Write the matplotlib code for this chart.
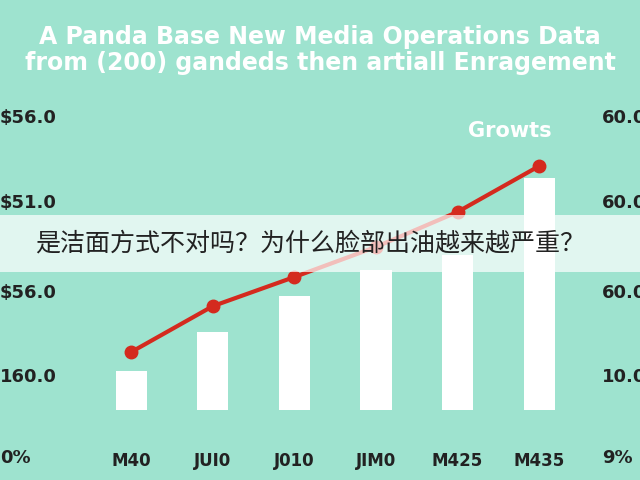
import matplotlib
matplotlib.use('agg')
import matplotlib.pyplot as plt
from matplotlib.patches import Rectangle

months = ['M40', 'JUI0', 'J010', 'JIM0', 'M425', 'M435']
bars = [12.6, 25.2, 36.8, 45.2, 50.0, 74.8]
growth = [18.7, 33.5, 42.9, 52.6, 63.9, 78.7]
left_labels = ['$56.0', '$51.0', '$56.0', '160.0', '0%']
right_labels = ['60.0', '60.0', '60.0', '10.0', '9%']
label_y = [118, 203, 293, 377, 458]  # pixel rows

bg = '#9ee3cf'
fig = plt.figure(figsize=(6.4, 4.8), dpi=100, facecolor=bg)
ax = fig.add_axes([70/640, 70/480, 510/640, 310/480], facecolor=bg)
x = range(len(months))
ax.bar(x, bars, width=0.38, color='white', zorder=2)
ax.plot(x, growth, color='#d42a1e', lw=3, marker='o', ms=9, zorder=3)
ax.set_ylim(0, 100)
ax.set_xlim(-0.75, 5.5)
ax.set_xticks(list(x))
ax.set_xticklabels(months, fontsize=12, fontweight='bold', color='#222222')
ax.tick_params(axis='x', length=0, pad=30)
ax.set_yticks([])
for s in ax.spines.values():
    s.set_visible(False)

for lab, y in zip(left_labels, label_y):
    fig.text(0.0, 1 - y/480, lab, fontsize=13, fontweight='bold', color='#222222', va='center', ha='left')
for lab, y in zip(right_labels, label_y):
    fig.text(602/640, 1 - y/480, lab, fontsize=13, fontweight='bold', color='#222222', va='center', ha='left')

fig.text(0.5, 1 - 50/480, 'A Panda Base New Media Operations Data\nfrom (200) gandeds then artiall Enragement',
         ha='center', va='center', fontsize=17, fontweight='bold', color='white', linespacing=1.1)
fig.text(510/640, 1 - 131/480, 'Growts', ha='center', va='center', fontsize=15, fontweight='bold', color='white')

fig.patches.append(Rectangle((0, 1 - 272/480), 1, 57/480, transform=fig.transFigure,
                             facecolor='white', alpha=0.7, zorder=5))
fig.text(35/640, 1 - 243/480, '是洁面方式不对吗？为什么脸部出油越来越严重？', fontsize=18, color='#222222',
         va='center', ha='left', family=['Noto Sans CJK SC', 'DejaVu Sans'], zorder=6)

fig.savefig('out.png', facecolor=bg)
